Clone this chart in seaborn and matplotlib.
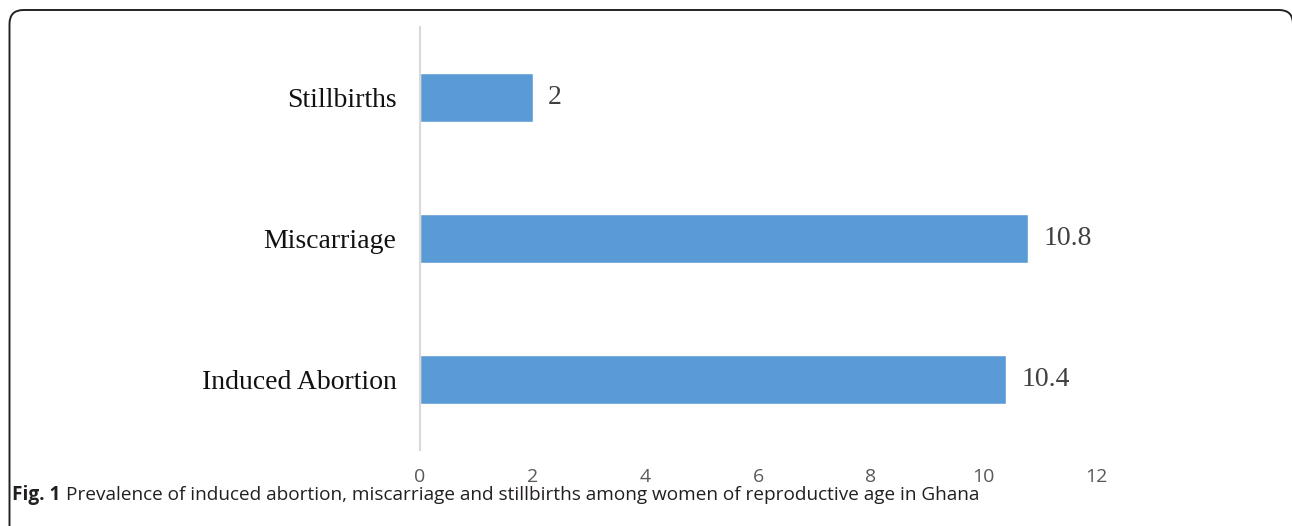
import matplotlib.pyplot as plt
import matplotlib.patches as mpatches
import seaborn as sns
import pandas as pd

# Dados
categorias = ["Stillbirths", "Miscarriage", "Induced Abortion"]
valores = [2, 10.8, 10.4]
ticks_x = [0, 2, 4, 6, 8, 10, 12]

df = pd.DataFrame({"Categoria": categorias, "Valor": valores})

sns.set_theme(style="white")
plt.rcParams["font.family"] = ["Liberation Serif", "DejaVu Serif"]

fig = plt.figure(figsize=(12.92, 5.26), dpi=100)
ax = fig.add_axes([420 / 1292, 76 / 526, 676 / 1292, 423 / 526])

sns.barplot(data=df, x="Valor", y="Categoria", orient="h", color="#5B9BD5",
            width=0.35, saturation=1, ax=ax)

# Rótulos de valor nas barras
for c in ax.containers:
    ax.bar_label(c, labels=[f"{v:g}" for v in valores], padding=11,
                 fontsize=20, color="#404040")

ax.set_xlim(0, 12)
ax.set_ylim(2.5, -0.5)
ax.set_xticks(ticks_x)
ax.set_xlabel("")
ax.set_ylabel("")

# Eixos: só a linha vertical em cinza
for lado in ["top", "right", "bottom"]:
    ax.spines[lado].set_visible(False)
ax.spines["left"].set_color("#D9D9D9")
ax.spines["left"].set_linewidth(1.5)

ax.tick_params(axis="x", length=0, pad=13, labelsize=14, labelcolor="#595959")
ax.tick_params(axis="y", length=0, pad=17, labelsize=20, labelcolor="#111111")
for lbl in ax.get_xticklabels():
    lbl.set_fontfamily(["Open Sans", "DejaVu Sans"])

# Legenda da figura
t1 = fig.text(12 / 1292, 31 / 526, "Fig. 1", fontsize=13.7, fontweight="bold",
              family=["Open Sans", "DejaVu Sans"], va="center", color="#231F20")
ax.annotate("Prevalence of induced abortion, miscarriage and stillbirths among women of reproductive age in Ghana",
            xy=(1, 0.5), xycoords=t1, xytext=(4, 0), textcoords="offset points",
            va="center", ha="left", fontsize=13.7, color="#231F20",
            family=["Open Sans", "DejaVu Sans"], annotation_clip=False)

# Moldura arredondada (cortada à direita e em baixo)
moldura = mpatches.FancyBboxPatch((9.5, -40), 1283.5, 556,
                                  boxstyle="round,pad=0,rounding_size=14",
                                  transform=None, fill=False,
                                  edgecolor="#222222", linewidth=1.4)
fig.patches.append(moldura)

fig.savefig("out.png", dpi=100)
